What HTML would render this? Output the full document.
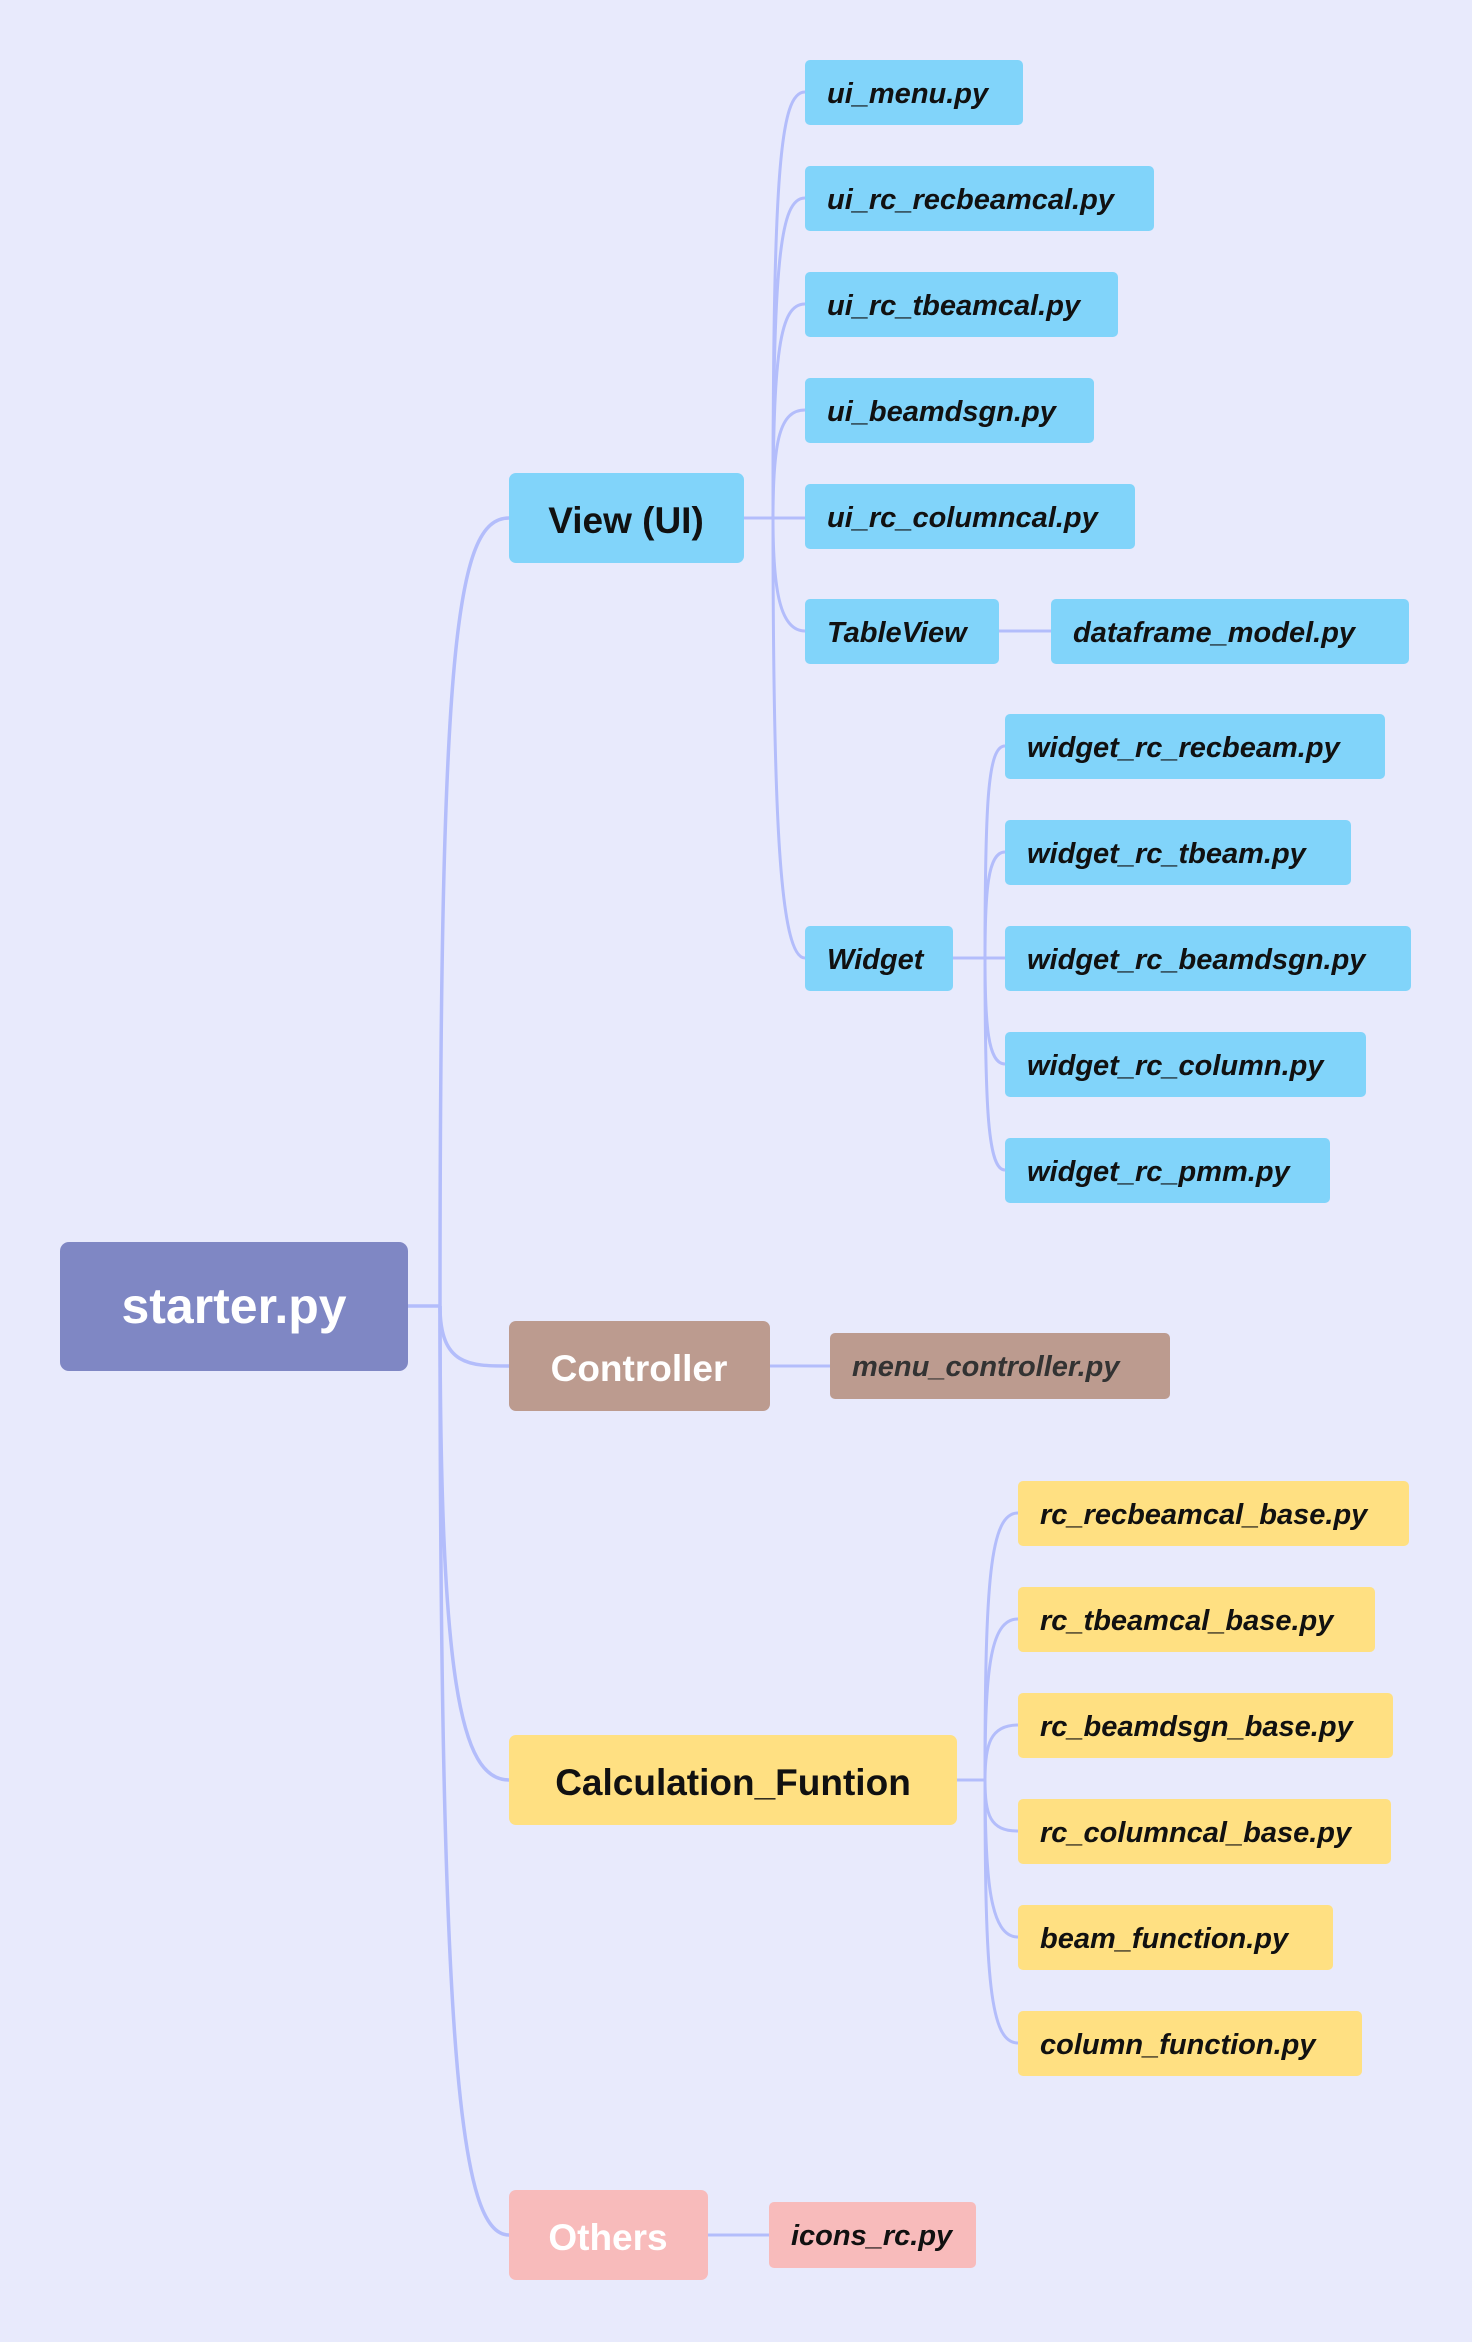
<!DOCTYPE html>
<html><head><meta charset="utf-8"><style>
html,body{margin:0;padding:0;background:#e8eafc;}
svg{display:block}
text{font-family:"Liberation Sans",sans-serif;font-weight:bold;}
.l{font-size:29px;font-style:italic;fill:#111;}
</style></head><body>
<svg width="1472" height="2342" viewBox="0 0 1472 2342" xmlns="http://www.w3.org/2000/svg">
<rect width="1472" height="2342" fill="#e8eafc"/>
<g fill="none" stroke="#b3bdfb" stroke-width="3.5">
<path d="M408 1306 H440"/>
<path d="M440 1306 C440 650 455 518 509 518"/>
<path d="M440 1306 C440 1366 470 1366 509 1366"/>
<path d="M440 1306 C440 1680 460 1780 509 1780"/>
<path d="M440 1306 C440 2060 460 2235 509 2235"/>
</g>
<g fill="none" stroke="#b3bdfb" stroke-width="3">
<path d="M744 518 H773"/>
<path d="M773 518 C773 170 780 92 805 92"/>
<path d="M773 518 C773 260 780 198 805 198"/>
<path d="M773 518 C773 350 780 304 805 304"/>
<path d="M773 518 C773 440 780 410 805 410"/>
<path d="M773 518 H805"/>
<path d="M773 518 C773 590 780 631 805 631"/>
<path d="M773 518 C773 820 780 958 805 958"/>
<path d="M999 631 H1051"/>
<path d="M953 958 H985"/>
<path d="M985 958 C985 800 988 746 1005 746"/>
<path d="M985 958 C985 890 988 852 1005 852"/>
<path d="M985 958 H1005"/>
<path d="M985 958 C985 1025 988 1064 1005 1064"/>
<path d="M985 958 C985 1110 988 1170 1005 1170"/>
<path d="M770 1366 H830"/>
<path d="M957 1780 H985"/>
<path d="M985 1780 C985 1580 990 1513 1018 1513"/>
<path d="M985 1780 C985 1670 990 1619 1018 1619"/>
<path d="M985 1780 C985 1745 990 1725 1018 1725"/>
<path d="M985 1780 C985 1815 990 1831 1018 1831"/>
<path d="M985 1780 C985 1880 990 1937 1018 1937"/>
<path d="M985 1780 C985 1980 990 2043 1018 2043"/>
<path d="M708 2235 H769"/>
</g>
<rect x="60" y="1242" width="348" height="129" rx="9" fill="#7f87c4"/>
<text x="234" y="1323" font-size="50" fill="#fff" text-anchor="middle">starter.py</text>
<rect x="509" y="473" width="235" height="90" rx="7" fill="#81d4fa"/>
<text x="626" y="533" font-size="37" fill="#111" text-anchor="middle">View (UI)</text>
<rect x="509" y="1321" width="261" height="90" rx="7" fill="#bc9b8f"/>
<text x="639" y="1381" font-size="37" fill="#fff" text-anchor="middle">Controller</text>
<rect x="509" y="1735" width="448" height="90" rx="7" fill="#ffe082"/>
<text x="733" y="1795" font-size="37" fill="#111" text-anchor="middle">Calculation_Funtion</text>
<rect x="509" y="2190" width="199" height="90" rx="7" fill="#f8bbbb"/>
<text x="608" y="2250" font-size="37" fill="#fff" text-anchor="middle">Others</text>
<g fill="#81d4fa">
<rect x="805" y="60" width="218" height="65" rx="5"/>
<rect x="805" y="166" width="349" height="65" rx="5"/>
<rect x="805" y="272" width="313" height="65" rx="5"/>
<rect x="805" y="378" width="289" height="65" rx="5"/>
<rect x="805" y="484" width="330" height="65" rx="5"/>
<rect x="805" y="599" width="194" height="65" rx="5"/>
<rect x="1051" y="599" width="358" height="65" rx="5"/>
<rect x="805" y="926" width="148" height="65" rx="5"/>
<rect x="1005" y="714" width="380" height="65" rx="5"/>
<rect x="1005" y="820" width="346" height="65" rx="5"/>
<rect x="1005" y="926" width="406" height="65" rx="5"/>
<rect x="1005" y="1032" width="361" height="65" rx="5"/>
<rect x="1005" y="1138" width="325" height="65" rx="5"/>
</g>
<rect x="830" y="1333" width="340" height="66" rx="5" fill="#bc9b8f"/>
<g fill="#ffe082">
<rect x="1018" y="1481" width="391" height="65" rx="5"/>
<rect x="1018" y="1587" width="357" height="65" rx="5"/>
<rect x="1018" y="1693" width="375" height="65" rx="5"/>
<rect x="1018" y="1799" width="373" height="65" rx="5"/>
<rect x="1018" y="1905" width="315" height="65" rx="5"/>
<rect x="1018" y="2011" width="344" height="65" rx="5"/>
</g>
<rect x="769" y="2202" width="207" height="66" rx="5" fill="#f8bbbb"/>
<g class="l">
<text class="l" x="827" y="103">ui_menu.py</text>
<text class="l" x="827" y="209">ui_rc_recbeamcal.py</text>
<text class="l" x="827" y="315">ui_rc_tbeamcal.py</text>
<text class="l" x="827" y="421">ui_beamdsgn.py</text>
<text class="l" x="827" y="527">ui_rc_columncal.py</text>
<text class="l" x="827" y="642">TableView</text>
<text class="l" x="1073" y="642">dataframe_model.py</text>
<text class="l" x="827" y="969">Widget</text>
<text class="l" x="1027" y="757">widget_rc_recbeam.py</text>
<text class="l" x="1027" y="863">widget_rc_tbeam.py</text>
<text class="l" x="1027" y="969">widget_rc_beamdsgn.py</text>
<text class="l" x="1027" y="1075">widget_rc_column.py</text>
<text class="l" x="1027" y="1181">widget_rc_pmm.py</text>
<text class="l" x="852" y="1376" style="fill:#333">menu_controller.py</text>
<text class="l" x="1040" y="1524">rc_recbeamcal_base.py</text>
<text class="l" x="1040" y="1630">rc_tbeamcal_base.py</text>
<text class="l" x="1040" y="1736">rc_beamdsgn_base.py</text>
<text class="l" x="1040" y="1842">rc_columncal_base.py</text>
<text class="l" x="1040" y="1948">beam_function.py</text>
<text class="l" x="1040" y="2054">column_function.py</text>
<text class="l" x="791" y="2245">icons_rc.py</text>
</g>
</svg>
</body></html>
